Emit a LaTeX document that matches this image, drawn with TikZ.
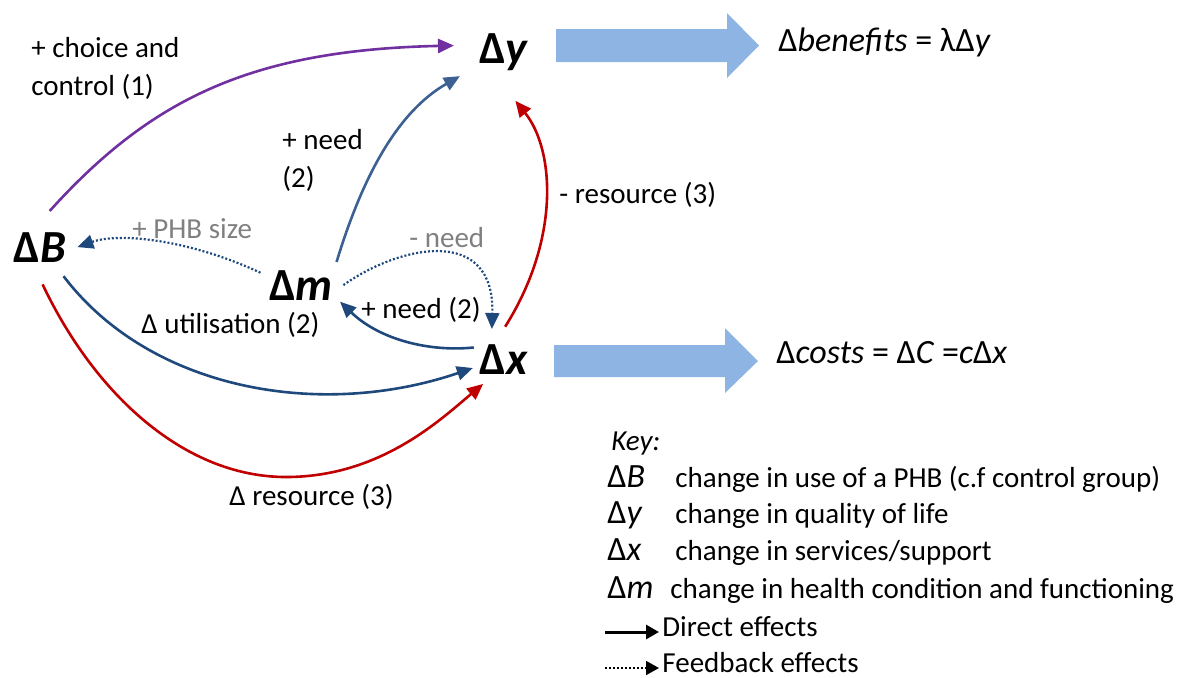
\documentclass[tikz,border=0pt]{standalone}
\usepackage{fontspec}
\setmainfont{Carlito}
\usetikzlibrary{arrows.meta}
\definecolor{choicepurple}{RGB}{112,48,160}
\definecolor{needblue}{RGB}{31,73,125}
\definecolor{linkblue}{RGB}{59,96,145}
\definecolor{resred}{RGB}{192,0,0}
\definecolor{flowblue}{RGB}{142,180,227}
\definecolor{fbgray}{RGB}{128,128,128}
\newcommand{\keysym}[2][34pt]{\makebox[#1][l]{\fontsize{17}{18}\selectfont Δ\textit{#2}}}

\begin{document}
\begin{tikzpicture}[x=0.5pt,y=-0.5pt,
  var/.style={circle,inner sep=0pt,anchor=base,font=\fontsize{23}{27}\selectfont\bfseries},
  lbl/.style={inner sep=0pt,anchor=base west,font=\fontsize{14.5}{19}\selectfont},
  fblbl/.style={lbl,text=fbgray},
  eqtxt/.style={lbl,font=\fontsize{17}{20}\selectfont},
  keytxt/.style={inner sep=0pt,anchor=base west,font=\fontsize{14.5}{18}\selectfont},
  effect/.style={line width=1.3pt,-{Triangle[length=8pt,width=7pt]}},
  feedback/.style={effect,line width=1.1pt,dash pattern=on 1pt off 1pt},
  keyarrow/.style={black,line width=1.5pt,shorten >=1.5pt,-{Triangle[length=6.5pt,width=7pt]}}]
\useasboundingbox (0,0) rectangle (1183,677);

% variables
\node[var,minimum size=37pt] (dB) at (40,262) {Δ\textit{B}};
\node[var,minimum size=50pt] (dy) at (504,63) {Δ\textit{y}};
\node[var,minimum size=42pt] (dm) at (301,300) {Δ\textit{m}};
\node[var,minimum size=32pt] (dx) at (504,374) {Δ\textit{x}};

% benefits and costs
\fill[flowblue] (556,29) -- (727,29) -- (727,13) -- (759,45.5) -- (727,78) -- (727,62) -- (556,62) -- cycle;
\fill[flowblue] (554,345) -- (725,345) -- (725,328) -- (758,361) -- (725,393) -- (725,377) -- (554,377) -- cycle;
\node[eqtxt] (benefits) at (778,51) {Δ\textit{benefits} = λΔ\textit{y}};
\node[eqtxt] (costs) at (776,363) {Δ\textit{costs} = Δ\textit{C} =\textit{c}Δ\textit{x}};

% direct effects
\draw[effect,choicepurple] (dB.75) .. controls (150,100) and (250,50) .. (dy.173);
\draw[effect,linkblue] (dm.33) .. controls (362,178) and (397,112) .. (dy.-151);
\draw[effect,resred] (dx.88) .. controls (560,240) and (555,150) .. (dy.-77);
\draw[effect,needblue] (dx.159) .. controls (430,352) and (380,340) .. (dm.-23);
\draw[effect,needblue] (dB.-51) .. controls (150,390) and (320,420) .. (dx.196);
\draw[effect,resred] (dB.-86) .. controls (95,395) and (185,477) .. (286,477) .. controls (380,477) and (440,420) .. (dx.230);
% feedback effects
\draw[feedback,needblue] (dm.163) .. controls (190,240) and (120,232) .. (dB.0);
\draw[feedback,needblue] (dm.0) .. controls (400,245) and (495,225) .. (dx.112);

% labels
\node[lbl,anchor=north west,align=left] (choicelbl) at (31,37) {+ choice and\\control (1)};
\node[lbl,anchor=north west,align=left] (needuplbl) at (282,129) {+ need\\(2)};
\node[lbl] (resuplbl) at (559,203) {- resource (3)};
\node[fblbl] (phblbl) at (132,238) {+ PHB size};
\node[fblbl] (needfblbl) at (409,247) {- need};
\node[lbl] (needlbl) at (361,318) {+ need (2)};
\node[lbl] (utillbl) at (141,333) {Δ utilisation (2)};
\node[lbl] (reslbl) at (229,505) {Δ resource (3)};

% key
\node[keytxt] (keyhead) at (611,450) {\textit{Key:}};
\node[keytxt] (keyB) at (607,487) {\keysym{B}change in use of a PHB (c.f control group)};
\node[keytxt] (keyy) at (607,523) {\keysym{y}change in quality of life};
\node[keytxt] (keyx) at (607,560) {\keysym{x}change in services/support};
\node[keytxt] (keym) at (607,598) {\keysym[31.5pt]{m}change in health condition and functioning};
\node[keytxt] (direct) at (662,636) {Direct effects};
\node[keytxt] (fback) at (662,672) {Feedback effects};
\coordinate (directstart) at (605,632);
\coordinate (fbackstart) at (605,668);
\draw[keyarrow] (directstart) -- (directstart -| direct.west);
\draw[keyarrow,line width=0.9pt,dash pattern=on 1pt off 1pt] (fbackstart) -- (fbackstart -| fback.west);
\end{tikzpicture}
\end{document}
